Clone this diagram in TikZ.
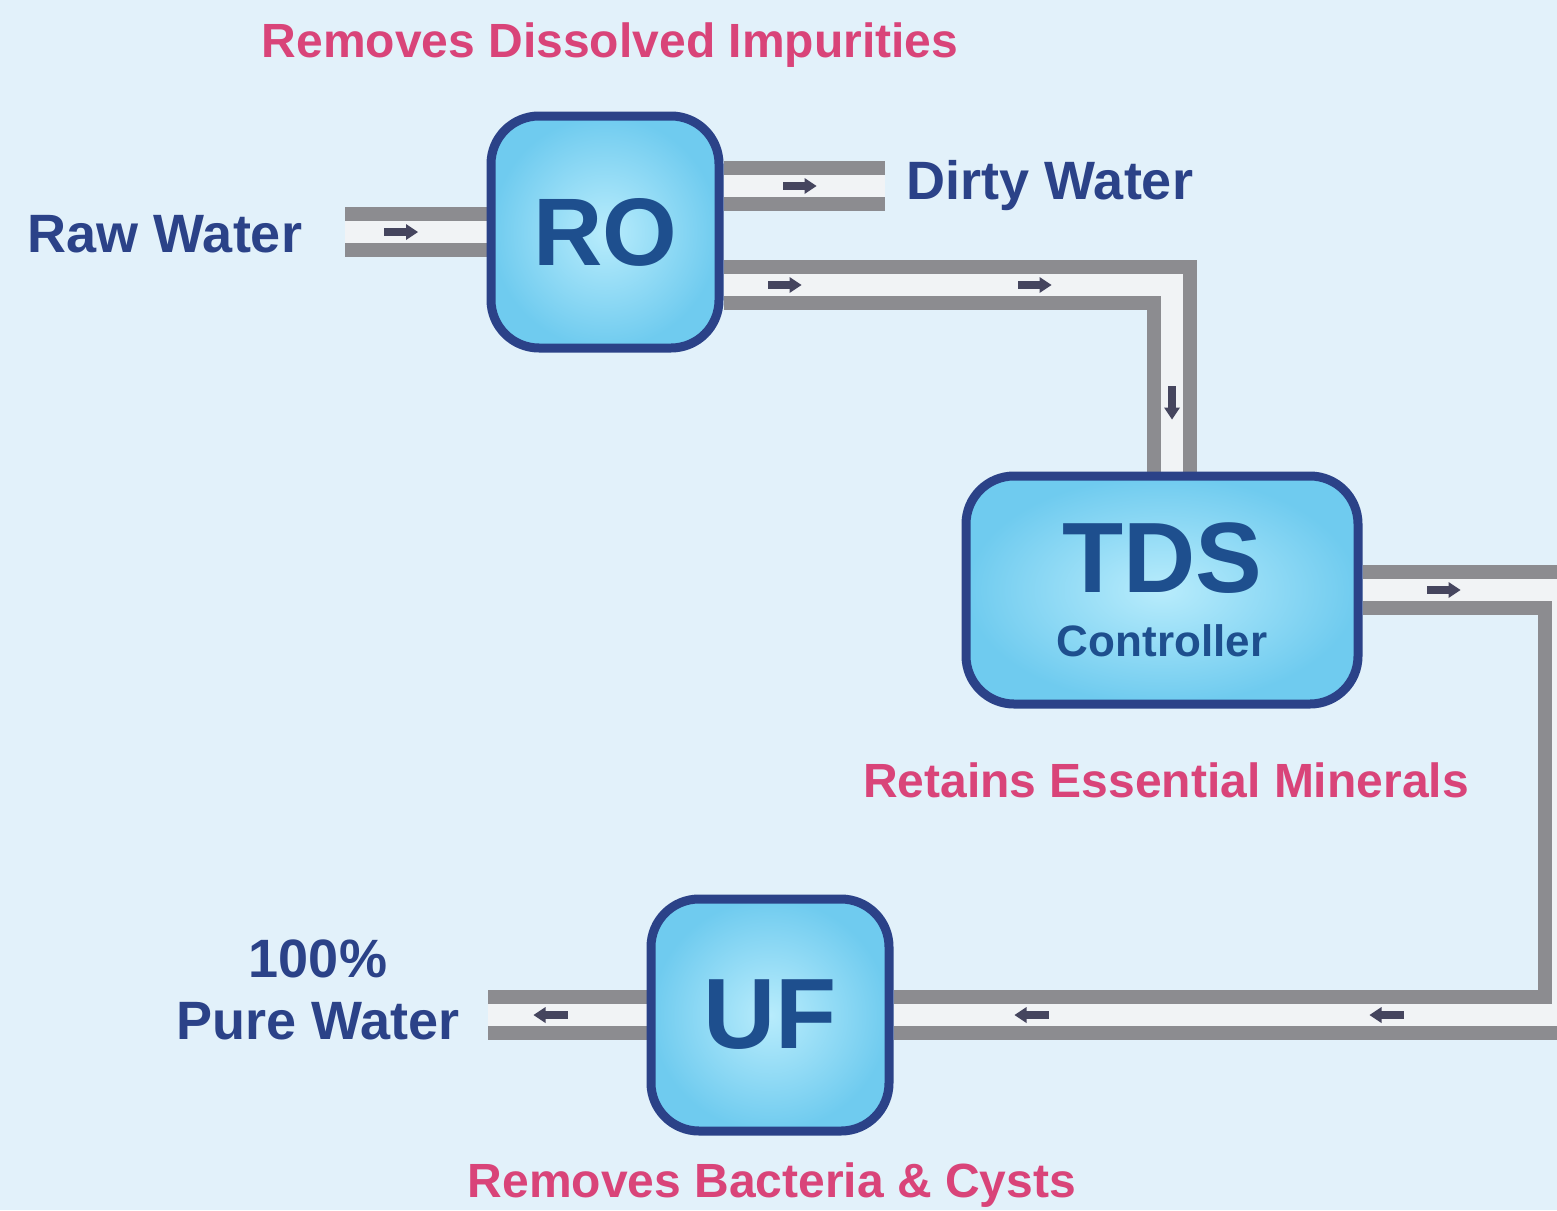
\documentclass[tikz,border=0pt]{standalone}
\usepackage{fontspec}
\setmainfont{Liberation Sans}
\usetikzlibrary{arrows.meta,decorations.markings}
\definecolor{bgc}{HTML}{E2F1FA}
\definecolor{navy}{HTML}{2B4288}
\definecolor{unittext}{HTML}{1E4F8E}
\definecolor{pinkc}{HTML}{D94479}
\definecolor{pipegray}{HTML}{8C8C90}
\definecolor{pipein}{HTML}{F1F3F5}
\definecolor{markc}{HTML}{45455E}
\definecolor{fillin}{HTML}{B8ECFC}
\definecolor{fillout}{HTML}{6FCBEF}
\pgfdeclarelayer{back}
\pgfdeclarelayer{pipes}
\pgfsetlayers{back,pipes,main}
\tikzset{
  unit/.style={draw=navy, line width=9pt, rounded corners=48pt, inner color=fillin, outer color=fillout, text=unittext, font=\bfseries},
  pipe/.style={draw=pipegray, line width=14pt, double=pipein, double distance=22pt},
  markat/.style={postaction={decorate,decoration={markings,mark=at position #1 with {\fill[markc] (-16pt,-4pt) rectangle (8pt,4pt); \fill[markc] (6pt,-8pt)--(18pt,0pt)--(6pt,8pt)--cycle;}}}},
  bluelabel/.style={text=navy, font=\fontsize{54}{62}\selectfont\bfseries, align=center},
  pinklabel/.style={text=pinkc, font=\fontsize{48}{56}\selectfont\bfseries}
}
\begin{document}
\begin{tikzpicture}[x=1pt,y=-1pt]
\clip (0,0) rectangle (1557,1210);
\begin{pgfonlayer}{back}
\fill[bgc] (0,0) rectangle (1557,1210);
\end{pgfonlayer}

% units
\node[unit, minimum width=228pt, minimum height=232pt, font=\fontsize{96}{100}\selectfont\bfseries] (ro) at (605,232) {RO};
\node[unit, minimum width=392pt, minimum height=228pt, align=center] (tds) at (1162,590) {\fontsize{100}{100}\selectfont TDS\\[30pt]\fontsize{44}{66}\selectfont Controller};
\node[unit, minimum width=238pt, minimum height=232pt, font=\fontsize{100}{100}\selectfont\bfseries] (uf) at (770,1015) {UF};

% labels
\node[pinklabel] (lro) at (610,45) {Removes Dissolved Impurities};
\node[pinklabel] (ltds) at (1166,780) {Retains Essential Minerals};
\node[pinklabel] (luf) at (772,1185) {Removes Bacteria \& Cysts};
\node[bluelabel] (raw) at (165,234) {Raw Water};
\node[bluelabel] (dirty) at (1050,186) {Dirty Water};
\node[bluelabel] (pure) at (318,990) {100\%\\Pure Water};

\coordinate (rawin) at (345,232);
\coordinate (dirtyout) at (885,186);
\coordinate (pureout) at (488,1015);

\begin{pgfonlayer}{pipes}
\draw[pipe, markat=55pt] (rawin) -- (ro.west);
\draw[pipe, markat=75pt] ([yshift=46pt]ro.east) -- (dirtyout);
\draw[pipe, markat=60pt, markat=310pt, markat=565pt] ([yshift=-53pt]ro.east) -| ([xshift=10pt]tds.north);
\draw[pipe, markat=80pt, markat=800pt, markat=1155pt] (tds.east) -- ++(200,0) |- (uf.east);
\draw[pipe, markat=95pt] (uf.west) -- (pureout);
\end{pgfonlayer}
\end{tikzpicture}
\end{document}
